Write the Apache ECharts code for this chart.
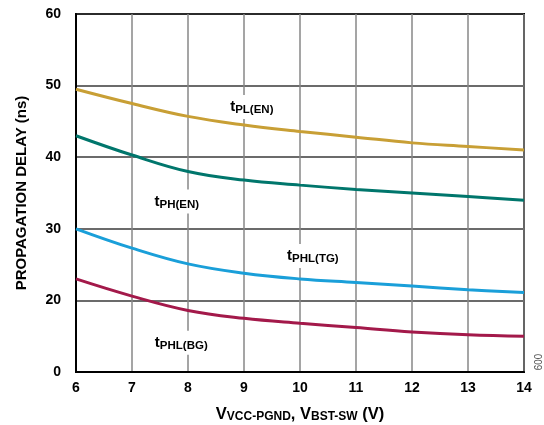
<!DOCTYPE html>
<html><head><meta charset="utf-8">
<script src="https://cdn.jsdelivr.net/npm/echarts@6/dist/echarts.min.js"></script>
<style>html,body{margin:0;padding:0;background:#fff}#c{width:544px;height:425px}</style>
</head><body><div id="c"></div>
<script>
const xValues = [6, 7, 8, 9, 10, 11, 12, 13, 14];
const tPL_EN  = [49.5, 47.5, 45.7, 44.5, 43.6, 42.8, 42.0, 41.5, 41.0];
const tPH_EN  = [43.0, 40.3, 38.0, 36.8, 36.1, 35.5, 35.0, 34.5, 34.0];
const tPHL_TG = [30.0, 27.3, 25.1, 23.8, 23.0, 22.5, 22.0, 21.5, 21.1];
const tPHL_BG = [23.0, 20.6, 18.6, 17.5, 16.8, 16.2, 15.6, 15.2, 15.0];
const yTickValues = [10, 20, 30, 40, 50, 60];
const yTickLabels = ['0', '20', '30', '40', '50', '60'];
const xTickLabels = ['6','7','8','9','10','11','12','13','14'];
const seriesNames = ['tPL(EN)', 'tPH(EN)', 'tPHL(TG)', 'tPHL(BG)'];
const seriesSubs = ['PL(EN)', 'PH(EN)', 'PHL(TG)', 'PHL(BG)'];
const labelAnchors = [[9.14, 47.0], [7.8, 33.8], [10.23, 26.2], [7.88, 14.1]];
const colors = ['#c89f35', '#00766c', '#1a9fd9', '#a3194a'];

const chart = echarts.init(document.getElementById('c'), null, {renderer: 'canvas'});
const allData = [tPL_EN, tPH_EN, tPHL_TG, tPHL_BG];
const font = 'Liberation Sans, Arial, sans-serif';

const series = allData.map((d, i) => ({
  name: seriesNames[i], type: 'line', smooth: 0.4, symbol: 'none',
  data: xValues.map((x, j) => [x, d[j]]),
  lineStyle: {color: colors[i], width: 3}, z: 5
}));

chart.setOption({
  animation: false,
  grid: {left: 76, top: 14, right: 20, bottom: 53, outerBoundsMode: 'none', containLabel: false,
    show: true, borderColor: '#000', borderWidth: 2, backgroundColor: 'transparent'},
  xAxis: {
    type: 'value', min: 6, max: 14, interval: 1,
    axisLine: {show: true, lineStyle: {color: '#000', width: 2}},
    axisTick: {show: false},
    splitLine: {show: true, lineStyle: {color: '#878787', width: 1.5}},
    axisLabel: {color: '#000', fontFamily: font, fontWeight: 'bold', fontSize: 14, margin: 9,
      formatter: v => xTickLabels[xValues.indexOf(v)] ?? ''},
    name: '{v|V}{s|VCC-PGND}{v|, V}{s|BST-SW}{v| (V)}', nameLocation: 'middle', nameGap: 34,
    nameTextStyle: {rich: {
      v: {fontFamily: font, fontWeight: 'bold', fontSize: 16.5, color: '#000'},
      s: {fontFamily: font, fontWeight: 'bold', fontSize: 12, color: '#000', padding: [5, 0, 0, 0]}
    }}
  },
  yAxis: {
    type: 'value', min: 10, max: 60, interval: 10,
    axisLine: {show: true, lineStyle: {color: '#000', width: 2}},
    axisTick: {show: false},
    splitLine: {show: true, lineStyle: {color: '#3a3a3a', width: 1.5}},
    axisLabel: {color: '#000', fontFamily: font, fontWeight: 'bold', fontSize: 14, margin: 15,
      formatter: v => yTickLabels[yTickValues.indexOf(v)] ?? ''},
    name: 'PROPAGATION DELAY (ns)', nameLocation: 'middle', nameGap: 47, nameRotate: 90,
    nameTextStyle: {fontFamily: font, fontWeight: 'bold', fontSize: 15, color: '#000'}
  },
  series: series
});

const graphics = labelAnchors.map((a, i) => {
  const p = chart.convertToPixel({gridIndex: 0}, a);
  return {
    type: 'text', x: p[0], y: p[1], z: 10,
    style: {
      text: '{t|t}{s|' + seriesSubs[i] + '}', align: 'center', verticalAlign: 'middle',
      backgroundColor: '#fff', padding: [3, 3, 3, 3],
      rich: {
        t: {fontFamily: font, fontWeight: 'bold', fontSize: 15, fill: '#000', color: '#000'},
        s: {fontFamily: font, fontWeight: 'bold', fontSize: 11.5, fill: '#000', color: '#000', padding: [6, 0, 0, 0]}
      }
    }
  };
});
graphics.push({
  type: 'text', x: 537, y: 362, rotation: -Math.PI / 2, z: 10,
  style: {text: '009', fontFamily: font, fontSize: 10, fill: '#555', align: 'center', verticalAlign: 'middle'}
});
chart.setOption({graphic: graphics});
</script></body></html>
